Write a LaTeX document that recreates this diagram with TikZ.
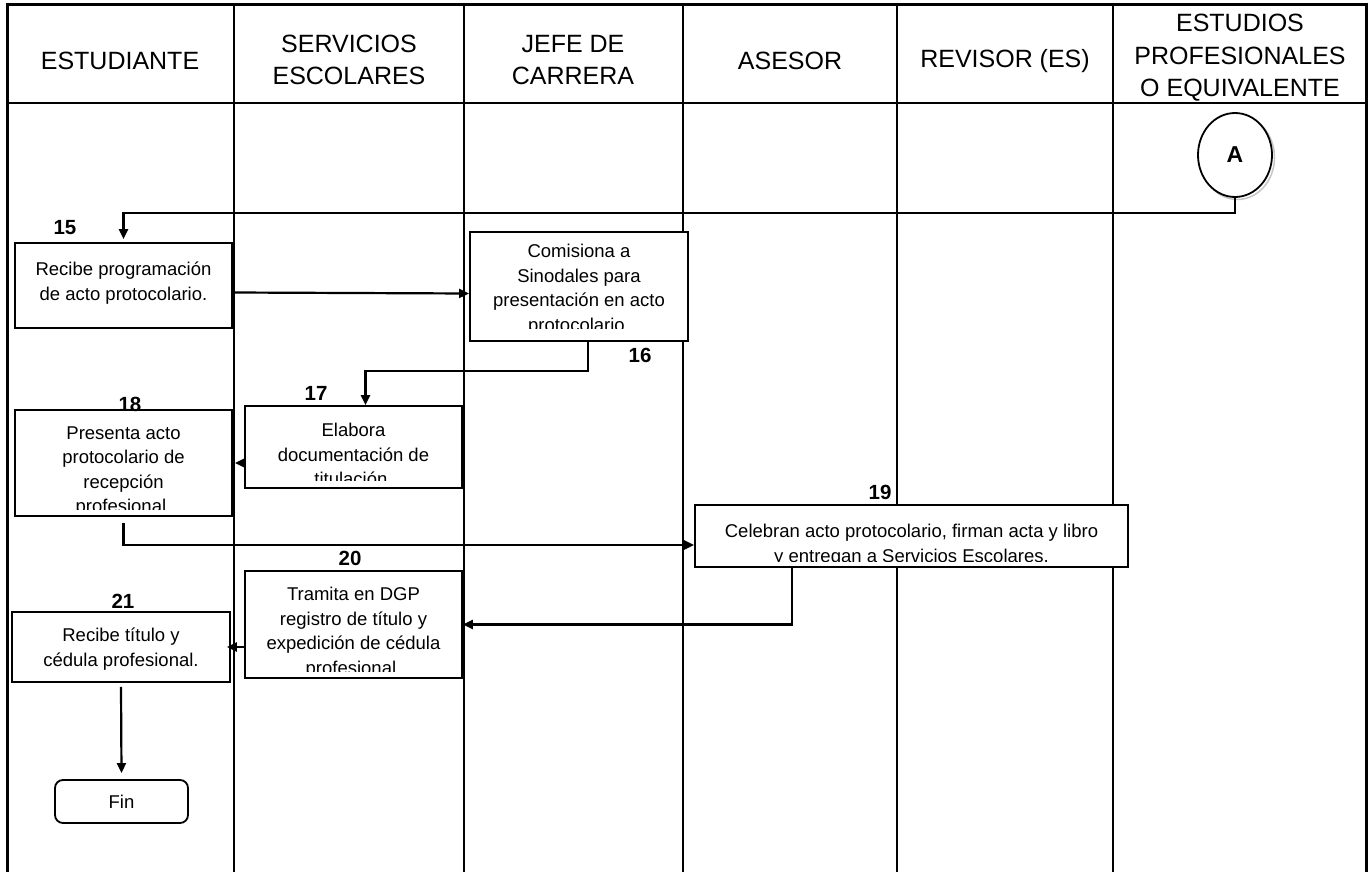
\documentclass[tikz,border=0pt]{standalone}
\usepackage{fontspec}
\setmainfont{Liberation Sans}
\usetikzlibrary{arrows.meta,shapes.geometric}
\tikzset{
  frame/.style={line width=3pt},
  grid/.style={line width=2pt},
  box/.style={draw, fill=white, line width=1.8pt, inner sep=0pt},
  txt/.style={align=center, inner sep=0pt, font=\fontsize{18.5}{24.5}\selectfont},
  hdr/.style={align=center, inner sep=0pt, font=\fontsize{25}{32.5}\selectfont},
  num/.style={inner sep=0pt, font=\fontsize{20.5}{22}\selectfont\bfseries},
  arr/.style={line width=2.2pt, -{Triangle[length=10pt,width=9pt]}},
}
\newcommand\cliptext[4]{%
  \begin{scope}
    \clip ([xshift=1pt,yshift=#4pt]#1.south west) rectangle ([xshift=-1pt,yshift=-1pt]#1.north east);
    \node[txt, anchor=north] (#1t) at ([yshift=-#2pt]#1.north) {#3};
  \end{scope}}
\begin{document}
\begin{tikzpicture}[x=1pt,y=-1pt]
\useasboundingbox (0,0) rectangle (1371,872);
% grid
\draw[frame] (7,874) -- (7,5) -- (1366,5) -- (1366,874);
\draw[grid] (7,103) -- (1366,103);
\foreach \xx in {234,464,683,897,1113}{\draw[grid] (\xx,5) -- (\xx,874);}
% headers
\node[hdr] (h1) at (120,61) {ESTUDIANTE};
\node[hdr] (h2) at (349,60) {SERVICIOS\\ESCOLARES};
\node[hdr] (h3) at (573,60) {JEFE DE\\CARRERA};
\node[hdr] (h4) at (790,61) {ASESOR};
\node[hdr] (h5) at (1005,61) {REVISOR (ES)};
\node[hdr] (h6) at (1240,58) {ESTUDIOS\\PROFESIONALES\\O EQUIVALENTE};
% connector A
\node[ellipse, draw=gray!45, line width=1.5pt, minimum width=74pt, minimum height=84pt] (Ash) at (1237.5,157.5) {};
\node[ellipse, draw, fill=white, line width=1.8pt, minimum width=74pt, minimum height=84pt, font=\fontsize{23}{25}\selectfont\bfseries] (A) at (1235,155) {A};
% boxes
\node[box, minimum width=217pt, minimum height=85pt] (b15) at (123.5,285.5) {};
\node[box, minimum width=218pt, minimum height=109pt] (b16) at (579,286.5) {};
\node[box, minimum width=217pt, minimum height=82pt] (b17) at (353.5,447) {};
\node[box, minimum width=217pt, minimum height=106pt] (b18) at (123.5,463) {};
\node[box, minimum width=433pt, minimum height=62pt] (b19) at (911.5,536) {};
\node[box, minimum width=217pt, minimum height=107pt] (b20) at (353.5,624.5) {};
\node[box, minimum width=218pt, minimum height=70pt] (b21) at (121,647) {};
\node[box, rounded corners=8pt, minimum width=133pt, minimum height=43pt] (fin) at (121.5,801.5) {};
\node[txt] (fint) at (fin.center) {Fin};
\cliptext{b15}{20}{Recibe programación\\de acto protocolario.}{8}
\cliptext{b16}{13}{Comisiona a\\Sinodales para\\presentación en acto\\protocolario.}{13}
\cliptext{b17}{18}{Elabora\\documentación de\\titulación.}{8}
\cliptext{b18}{17}{Presenta acto\\protocolario de\\recepción\\profesional.}{7}
\cliptext{b19}{20}{Celebran acto protocolario, firman acta y libro\\y entregan a Servicios Escolares.}{6}
\cliptext{b20}{17}{Tramita en DGP\\registro de título y\\expedición de cédula\\profesional.}{7}
\cliptext{b21}{17}{Recibe título y\\cédula profesional.}{4}
% numbers
\node[num] (n15) at (65,228) {15};
\node[num] (n16) at (640,355) {16};
\node[num] (n17) at (316,393) {17};
\node[num] (n18) at (130,404) {18};
\node[num] (n19) at (880,492) {19};
\node[num] (n20) at (350,558) {20};
\node[num] (n21) at (123,601) {21};
% connectors
\draw[arr] (A.south) -- ++(0,15) -| ([yshift=3pt]b15.north);
\draw[arr] ([yshift=-7pt]b15.east) -- ([yshift=-7pt]b16.west);
\draw[arr] ([xshift=9pt]b16.south) -- ++(0,29) -| ([xshift=12pt]b17.north);
\draw[arr] ([yshift=-16pt]b17.west) -- ([yshift=-16pt,xshift=2pt]b17.west -| b18.east);
\draw[arr] ([yshift=-6pt]b18.south) |- ([yshift=-9pt]b19.west);
\draw[arr] ([xshift=-119.5pt]b19.south) |- (b20.east);
\draw[arr] (b20.west |- b21.east) -- ([xshift=-4pt]b21.east);
\draw[arr] ([yshift=-4pt]b21.south) -- ([yshift=6pt]fin.north);
\end{tikzpicture}
\end{document}
